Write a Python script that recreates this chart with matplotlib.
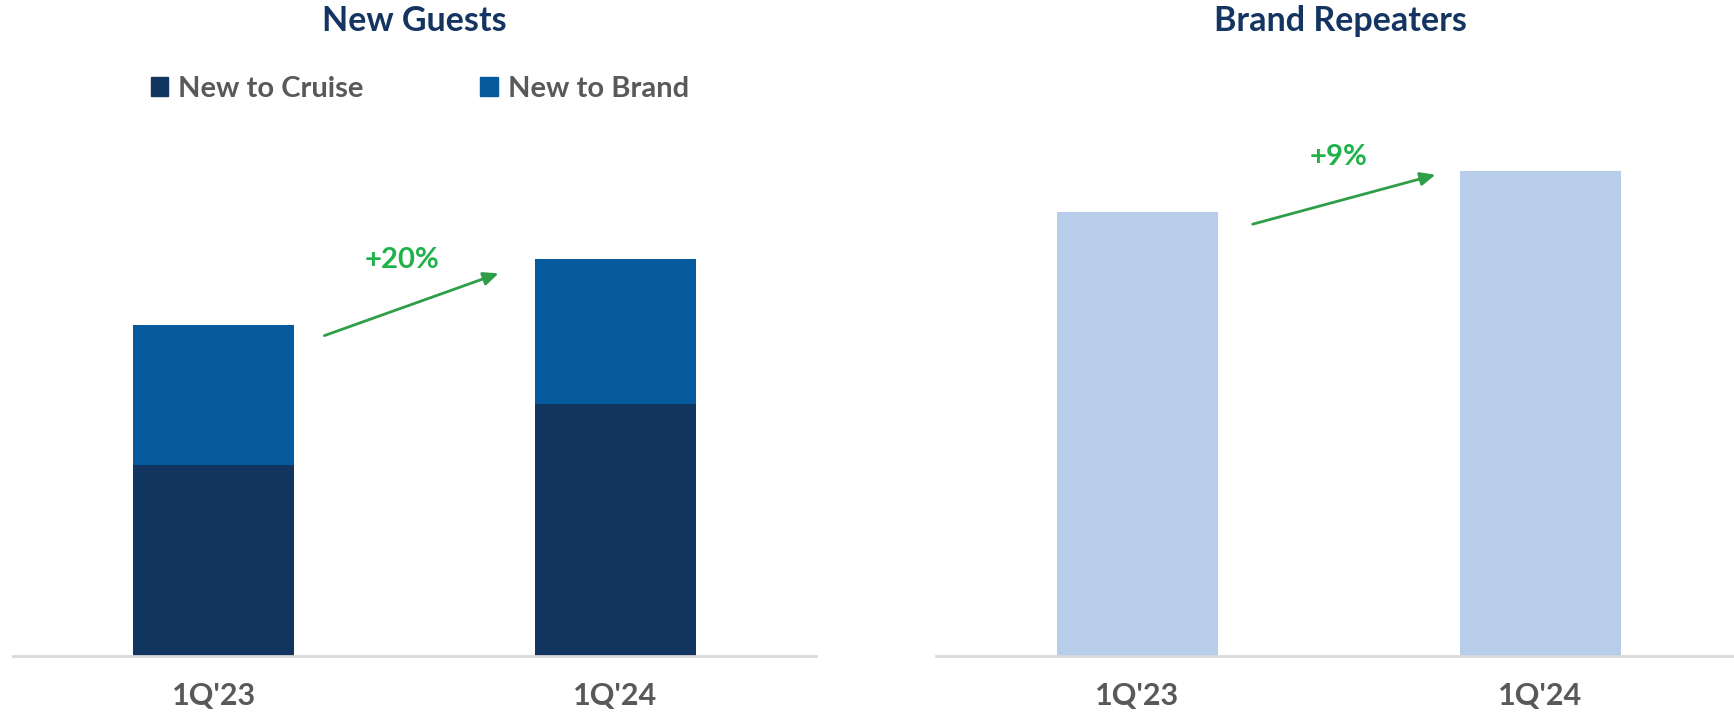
import matplotlib
matplotlib.use("Agg")
import matplotlib.pyplot as plt
from matplotlib.patches import Patch

plt.rcParams['font.family'] = ['Lato', 'DejaVu Sans']

categories = ["1Q'23", "1Q'24"]
new_to_cruise = [173, 228]
new_to_brand = [126, 131]
brand_repeaters = [402, 439]
growth_labels = ["+20%", "+9%"]
titles = ["New Guests", "Brand Repeaters"]
legend_labels = ["New to Cruise", "New to Brand"]

C_DARK = "#12355f"
C_BLUE = "#045a9c"
C_LIGHT = "#b7cdea"
C_GRAY = "#595959"
C_TITLE = "#143462"
C_GREEN_T = "#1fb24a"
C_GREEN_A = "#2f9e48"

fig = plt.figure(figsize=(17.34, 7.13), dpi=100)
bottom = 57 / 713
height = 556 / 713
ax1 = fig.add_axes([13 / 1734, bottom, 803 / 1734, height])
ax2 = fig.add_axes([936 / 1734, bottom, 798 / 1734, height])

x = list(range(len(categories)))
w = 0.4
ax1.bar(x, new_to_cruise, width=w, color=C_DARK, label=legend_labels[0])
ax1.bar(x, new_to_brand, width=w, bottom=new_to_cruise, color=C_BLUE, label=legend_labels[1])
ax2.bar(x, brand_repeaters, width=w, color=C_LIGHT)

ax1.set_xlim(-0.5, 1.5)
ax2.set_xlim(-0.5, 1.48)
for ax in (ax1, ax2):
    ax.set_ylim(0, 503)
    for s in ("top", "right", "left"):
        ax.spines[s].set_visible(False)
    ax.spines["bottom"].set_color("#d9d9d9")
    ax.spines["bottom"].set_linewidth(2)
    ax.set_yticks([])
    ax.set_xticks(x)
    ax.set_xticklabels(categories, fontsize=22, fontweight="bold", color=C_GRAY)
    ax.tick_params(axis="x", length=0, pad=19)

# growth arrows
ax1.annotate("", xy=(0.716, 347), xytext=(0.269, 289),
             arrowprops=dict(arrowstyle="-|>,head_length=0.9,head_width=0.4", color=C_GREEN_A, lw=2))
ax1.text(0.47, 358, growth_labels[0], ha="center", va="center", fontsize=21, fontweight="bold", color=C_GREEN_T)
ax2.annotate("", xy=(0.746, 436), xytext=(0.279, 390),
             arrowprops=dict(arrowstyle="-|>,head_length=0.9,head_width=0.4", color=C_GREEN_A, lw=2))
ax2.text(0.5, 451, growth_labels[1], ha="center", va="center", fontsize=21, fontweight="bold", color=C_GREEN_T)

fig.text(414 / 1734, 1 - 21 / 713, titles[0], ha="center", va="center", fontsize=24.5, fontweight="bold", color=C_TITLE)
fig.text(1340 / 1734, 1 - 21 / 713, titles[1], ha="center", va="center", fontsize=24.5, fontweight="bold", color=C_TITLE)

handles = [Patch(color=C_DARK, label=legend_labels[0]), Patch(color=C_BLUE, label=legend_labels[1])]
leg = fig.legend(handles=handles, loc="center", bbox_to_anchor=(420 / 1734, 1 - 89 / 713), ncol=2,
                 frameon=False, fontsize=21, handlelength=0.6, handleheight=0.6, handletextpad=0.35,
                 columnspacing=4.0, borderaxespad=0)
for t in leg.get_texts():
    t.set_color(C_GRAY)
    t.set_fontweight("bold")

fig.savefig("out.png", dpi=100)
